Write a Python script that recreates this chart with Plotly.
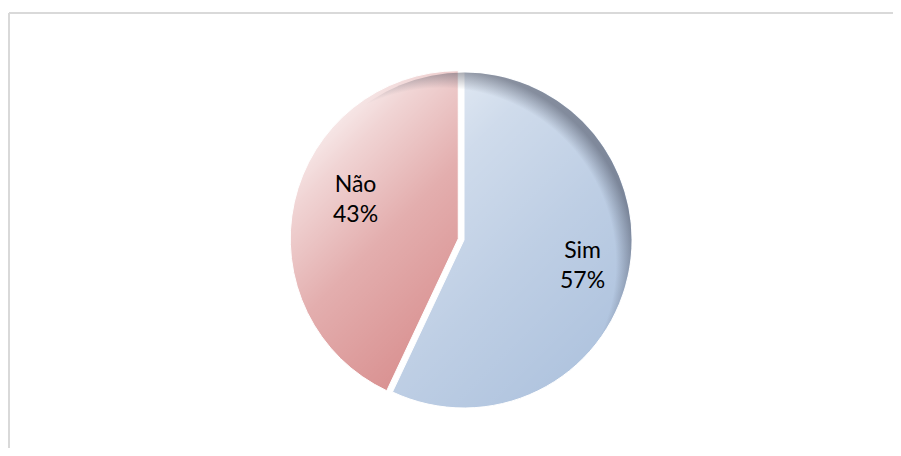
import base64
import math
import plotly.graph_objects as go

# ---- data ----
categories = ["Sim", "Não"]
values = [57, 43]

# ---- style ----
colors = ["#acc1dd", "#cf7373"]
pulls = [0, 0.035]
label_radius = [0.72, 0.66]      # fraction of radius where label sits
label_angle_shift = [-1, 9]      # degrees, clockwise tweak

W, H = 893, 440                  # page adds 8px body margin
cx, cy, r = 456, 232, 168        # pie centre/radius in figure px
half = r * (1 + max(pulls))

fig = go.Figure(go.Pie(
    labels=categories,
    values=values,
    sort=False,
    direction="clockwise",
    rotation=0,
    pull=pulls,
    marker=dict(colors=colors, line=dict(color="white", width=1)),
    textinfo="none",
    domain=dict(x=[(cx - half) / W, (cx + half) / W],
                y=[1 - (cy + half) / H, 1 - (cy - half) / H]),
    showlegend=False,
    hoverinfo="label+percent",
))

# ---- labels placed on slice bisectors ----
total = sum(values)
annotations = []
start = 0.0
for i, (lab, v) in enumerate(zip(categories, values)):
    frac = v / total
    mid = (start + frac / 2) * 2 * math.pi          # clockwise from 12 o'clock
    start += frac
    ang = mid + math.radians(label_angle_shift[i])
    ox = pulls[i] * r * math.sin(mid)
    oy = -pulls[i] * r * math.cos(mid)
    px = cx + ox + label_radius[i] * r * math.sin(ang)
    py = cy + oy - label_radius[i] * r * math.cos(ang)
    annotations.append(dict(
        x=px / W, y=1 - py / H, xref="paper", yref="paper",
        text=f"{lab}<br>{round(100 * frac)}%", showarrow=False,
        xanchor="center", yanchor="middle",
        font=dict(family="Lato, sans-serif", size=23, color="black"),
    ))

# ---- decorative shading overlay (gradient + bevel) ----
R = r + 10
d1, d2 = 122, 138
svg = f'''<svg xmlns="http://www.w3.org/2000/svg" width="{2*R}" height="{2*R}" viewBox="0 0 {2*R} {2*R}">
<defs>
<linearGradient id="lg" gradientUnits="userSpaceOnUse" x1="{R-d1}" y1="{R-d1}" x2="{R+d2}" y2="{R+d2}">
<stop offset="0" stop-color="#ffffff" stop-opacity="0.82"/>
<stop offset="0.077" stop-color="#ffffff" stop-opacity="0.70"/>
<stop offset="0.31" stop-color="#ffffff" stop-opacity="0.42"/>
<stop offset="0.615" stop-color="#ffffff" stop-opacity="0.22"/>
<stop offset="1" stop-color="#ffffff" stop-opacity="0.02"/>
</linearGradient>
<radialGradient id="rg" gradientUnits="userSpaceOnUse" cx="{R-0.14*r}" cy="{R+0.14*r}" r="{1.16*r}">
<stop offset="0.9" stop-color="#3c4050" stop-opacity="0"/>
<stop offset="1" stop-color="#3c4050" stop-opacity="0.5"/>
</radialGradient>
</defs>
<rect x="0" y="0" width="{2*R}" height="{2*R}" fill="url(#lg)"/>
<circle cx="{R}" cy="{R}" r="{r-0.5}" fill="url(#rg)"/>
</svg>'''
src = "data:image/svg+xml;base64," + base64.b64encode(svg.encode()).decode()

fig.update_layout(
    width=W, height=H,
    margin=dict(l=0, r=0, t=0, b=0),
    paper_bgcolor="white",
    plot_bgcolor="white",
    annotations=annotations,
    images=[dict(source=src, xref="paper", yref="paper",
                 x=(cx - R) / W, y=1 - (cy - R) / H,
                 sizex=2 * R / W, sizey=2 * R / H,
                 xanchor="left", yanchor="top",
                 sizing="stretch", layer="above")],
    shapes=[
        dict(type="line", xref="paper", yref="paper",
             x0=1 / W, x1=1.0, y0=1 - 5 / H, y1=1 - 5 / H,
             line=dict(color="#d9d9d9", width=2)),
        dict(type="line", xref="paper", yref="paper",
             x0=1 / W, x1=1 / W, y0=1 - 5 / H, y1=0.0,
             line=dict(color="#d9d9d9", width=2)),
    ],
)

fig.write_html("out.html")
